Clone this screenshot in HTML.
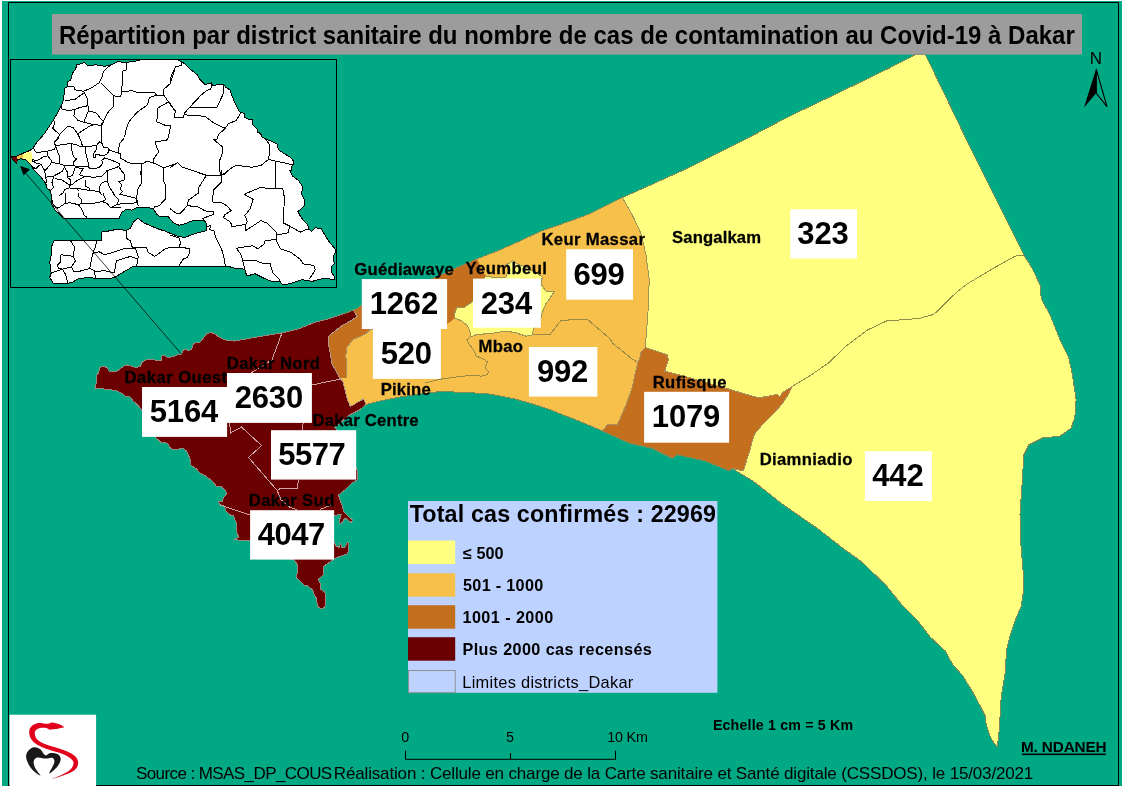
<!DOCTYPE html>
<html lang="fr"><head><meta charset="utf-8"><title>Répartition Covid-19 Dakar</title>
<style>
html,body{margin:0;padding:0;background:#fff;}
body{width:1123px;height:794px;overflow:hidden;}
svg{display:block;font-family:"Liberation Sans",sans-serif;}
</style></head><body>
<svg width="1123" height="794" viewBox="0 0 1123 794">
<rect x="0" y="0" width="1123" height="794" fill="#fff"/>
<rect x="2" y="1" width="1120" height="785" fill="#00A884"/>
<rect x="8.5" y="2.5" width="1110" height="783" fill="none" stroke="#000" stroke-width="1"/>
<g shape-rendering="crispEdges">
<rect x="80" y="50" width="1010" height="710" fill="#FFFF80"/>
<polygon points="622.3,180.0 622.3,197.5 632.3,214.9 641.0,233.6 646.0,254.8 649.2,279.7 648.5,304.7 646.7,329.6 645.2,347.5 641.0,352.4 639.8,358.6 637.9,362.3 634.8,374.8 632.3,387.3 626.1,404.8 617.4,424.7 607.4,424.7 602.4,431.0 600.0,480.0 320.0,480.0 320.0,180.0" fill="#F7C04B"/>
<polygon points="353.0,295.0 353.0,309.3 357.1,316.4 352.4,319.9 341.2,326.2 328.7,336.1 329.0,347.3 330.6,354.8 331.8,363.6 336.8,372.3 339.9,378.5 346.8,377.9 346.8,367.3 345.8,356.1 346.8,347.3 352.4,339.9 364.9,334.3 369.8,329.9 447.1,324.7 454.3,318.1 455.0,312.5 457.5,306.9 463.1,308.1 471.2,302.5 473.0,301.0 485.7,276.0 477.4,259.3 478.0,250.0" fill="#C46F1E"/>
<polygon points="645.2,347.5 667.3,354.9 668.5,359.9 664.8,371.1 679.7,374.9 729.6,389.3 749.5,395.3 759.5,397.8 777.3,394.3 779.8,396.8 782.3,392.7 791.0,387.2 792.3,386.4 787.3,396.2 782.3,403.6 774.8,412.4 762.3,424.8 754.9,433.6 752.4,441.0 749.3,452.3 743.3,470.9 732.1,468.4 729.0,480.0 600.0,480.0 602.4,431.0 607.4,424.7 617.4,424.7 626.1,404.8 632.3,387.3 634.8,374.8 637.9,362.3 639.8,358.6 641.0,352.4" fill="#C46F1E"/>
<polygon points="353.0,295.0 353.0,309.3 357.1,316.4 352.4,319.9 341.2,326.2 328.7,336.1 329.0,347.3 330.6,354.8 331.8,363.6 336.8,372.3 339.9,378.5 343.0,381.6 344.9,389.0 347.5,400.0 350.5,406.5 363.6,398.7 365.5,403.5 366.0,406.0 372.0,420.0 372.0,630.0 80.0,630.0 80.0,295.0" fill="#6B0000"/>
<polygon points="455.0,312.5 457.5,306.9 463.1,308.1 471.2,302.5 473.0,301.0 485.7,276.0 493.0,277.5 505.6,277.8 507.0,274.0 508.8,270.0 506.0,264.5 509.9,263.2 512.4,260.3 515.5,262.8 519.9,265.0 528.0,268.0 538.4,274.2 542.6,277.4 541.2,280.0 541.6,285.0 544.0,288.5 546.0,291.0 554.7,291.0 549.7,298.6 546.0,303.6 542.2,312.3 540.0,322.0 533.5,328.7 532.3,334.9 526.0,336.2 514.8,332.4 504.8,331.2 489.9,333.7 477.4,334.3 470.5,336.8 469.9,330.5 466.8,324.9 461.2,320.6 454.3,318.1" fill="#FFFF80"/>
<path d="M70 40H1100V770H70Z M95.0 388.6 L96.8 379.8 L96.2 376.7 L98.7 372.4 L100.0 367.4 L103.7 366.1 L107.4 368.0 L109.3 371.7 L116.2 371.7 L121.2 368.0 L124.9 365.5 L128.0 364.9 L134.9 367.4 L139.9 366.8 L142.3 361.8 L147.3 359.3 L153.6 359.3 L157.3 360.9 L161.1 360.5 L161.7 356.2 L164.2 355.3 L167.3 357.4 L173.5 356.8 L177.3 354.9 L181.6 354.3 L183.5 349.3 L186.0 349.3 L188.5 350.5 L191.6 349.3 L193.5 343.7 L196.0 342.4 L199.7 342.4 L202.8 338.7 L206.6 333.7 L210.9 332.5 L214.7 333.7 L219.6 337.5 L225.0 339.9 L234.6 341.1 L254.5 337.4 L282.0 332.9 L299.4 328.6 L314.4 322.4 L329.3 318.7 L344.3 313.7 L356.8 308.7 L362.3 304.8 L435.9 277.4 L454.6 268.6 L474.5 259.9 L499.5 250.0 L519.4 241.2 L540.0 231.5 L569.9 221.1 L589.9 213.7 L622.3 197.5 L640.0 189.7 L689.9 167.2 L739.7 142.3 L789.6 116.1 L839.5 92.3 L889.3 68.1 L914.9 54.8 L925.5 54.8 L928.0 60.0 L942.5 89.9 L967.7 142.3 L992.6 192.1 L1017.5 242.0 L1023.8 255.0 L1032.5 268.7 L1040.0 284.9 L1041.2 298.6 L1050.0 314.8 L1060.0 339.7 L1068.6 357.2 L1072.4 374.6 L1076.1 399.6 L1074.9 417.0 L1071.1 428.2 L1059.9 436.2 L1042.5 438.0 L1028.8 444.9 L1023.8 454.9 L1022.5 477.3 L1020.0 514.7 L1020.5 539.7 L1023.0 569.6 L1023.0 594.5 L1021.3 606.0 L1015.0 620.9 L1010.1 635.9 L1006.3 650.9 L1005.6 670.8 L1001.3 695.7 L1000.1 715.7 L998.8 735.6 L997.1 746.8 L991.4 739.4 L986.4 725.7 L985.1 715.7 L980.1 705.7 L972.7 692.0 L962.7 675.8 L952.7 664.6 L945.2 650.9 L930.3 637.1 L917.8 620.9 L902.8 606.0 L885.4 584.6 L860.5 560.9 L843.0 548.4 L816.9 528.0 L804.4 519.5 L779.5 502.0 L754.5 482.1 L732.1 468.4 L729.6 470.9 L704.7 460.9 L677.2 454.7 L672.3 458.4 L652.3 448.4 L629.9 443.4 L602.4 431.0 L580.0 421.5 L549.3 409.5 L530.0 403.2 L514.8 399.0 L489.9 394.1 L465.0 392.3 L440.0 391.6 L429.7 392.8 L400.0 397.0 L380.0 401.0 L366.0 404.5 L359.5 410.0 L349.5 415.0 L334.6 427.5 L345.0 440.0 L357.3 470.5 L357.3 479.9 L352.3 483.0 L344.9 489.9 L338.6 494.9 L339.9 499.9 L342.4 506.1 L343.6 511.7 L348.6 516.7 L352.3 519.8 L351.7 522.9 L344.9 517.9 L342.4 522.3 L339.9 523.5 L339.3 521.0 L341.1 514.8 L337.4 514.8 L333.5 516.1 L331.0 528.0 L333.5 539.9 L336.0 546.1 L339.7 547.4 L340.3 542.4 L341.6 547.4 L344.7 548.0 L347.2 542.4 L349.0 542.4 L347.8 553.6 L334.1 558.6 L332.1 560.3 L323.8 566.3 L323.1 575.0 L318.1 579.5 L320.0 582.9 L320.8 589.4 L323.8 591.3 L325.7 594.3 L325.7 600.3 L324.9 607.1 L321.9 609.0 L319.3 607.5 L317.0 605.6 L317.0 603.3 L316.6 598.4 L314.0 594.3 L312.5 589.7 L306.4 585.2 L304.2 585.2 L299.6 580.3 L296.2 577.7 L296.0 575.4 L297.7 573.1 L297.7 565.6 L294.7 560.3 L270.0 550.0 L249.8 540.9 L233.6 539.7 L238.6 537.2 L236.8 532.2 L236.0 522.3 L233.5 516.0 L229.8 514.8 L226.0 511.0 L224.2 506.0 L219.8 504.8 L218.6 501.7 L222.3 501.1 L223.6 497.9 L226.7 493.6 L224.8 489.8 L221.1 486.7 L216.1 486.1 L212.3 481.1 L204.9 475.5 L200.5 473.6 L196.1 468.6 L191.1 465.5 L189.9 458.7 L186.8 451.2 L182.4 448.1 L174.9 449.9 L170.6 448.7 L167.5 443.1 L161.2 442.5 L155.6 437.5 L141.7 409.8 L137.4 404.8 L133.0 401.0 L129.9 396.7 L124.9 396.0 L122.4 393.6 L116.2 390.4 L109.9 389.8 L101.2 388.6Z" fill="#00A884" fill-rule="evenodd"/>
</g>
<g fill="none" stroke-width="1" shape-rendering="crispEdges">
<polyline points="344.3,313.7 356.8,308.7 362.3,304.8 435.9,277.4 454.6,268.6 474.5,259.9 499.5,250.0 519.4,241.2 540.0,231.5 569.9,221.1 589.9,213.7 622.3,197.5 640.0,189.7 689.9,167.2 739.7,142.3 789.6,116.1 839.5,92.3 889.3,68.1 914.9,54.8 925.5,54.8 928.0,60.0 942.5,89.9 967.7,142.3 992.6,192.1 1017.5,242.0 1023.8,255.0 1032.5,268.7 1040.0,284.9 1041.2,298.6 1050.0,314.8 1060.0,339.7 1068.6,357.2 1072.4,374.6 1076.1,399.6 1074.9,417.0 1071.1,428.2 1059.9,436.2 1042.5,438.0 1028.8,444.9 1023.8,454.9 1022.5,477.3 1020.0,514.7 1020.5,539.7 1023.0,569.6 1023.0,594.5 1021.3,606.0 1015.0,620.9 1010.1,635.9 1006.3,650.9 1005.6,670.8 1001.3,695.7 1000.1,715.7 998.8,735.6 997.1,746.8 991.4,739.4 986.4,725.7 985.1,715.7 980.1,705.7 972.7,692.0 962.7,675.8 952.7,664.6 945.2,650.9 930.3,637.1 917.8,620.9 902.8,606.0 885.4,584.6 860.5,560.9 843.0,548.4 816.9,528.0 804.4,519.5 779.5,502.0 754.5,482.1 732.1,468.4 729.6,470.9 704.7,460.9 677.2,454.7 672.3,458.4 652.3,448.4 629.9,443.4 602.4,431.0 580.0,421.5 549.3,409.5 530.0,403.2 514.8,399.0 489.9,394.1 465.0,392.3 440.0,391.6 429.7,392.8 400.0,397.0 380.0,401.0 366.0,404.5 359.5,410.0" stroke="#7d8a5a"/>
<polyline points="359.5,410.0 349.5,415.0 334.6,427.5 345.0,440.0 357.3,470.5 357.3,479.9 352.3,483.0 344.9,489.9 338.6,494.9 339.9,499.9 342.4,506.1 343.6,511.7 348.6,516.7 352.3,519.8 351.7,522.9 344.9,517.9 342.4,522.3 339.9,523.5 339.3,521.0 341.1,514.8 337.4,514.8 333.5,516.1 331.0,528.0 333.5,539.9 336.0,546.1 339.7,547.4 340.3,542.4 341.6,547.4 344.7,548.0 347.2,542.4 349.0,542.4 347.8,553.6 334.1,558.6 332.1,560.3 323.8,566.3 323.1,575.0 318.1,579.5 320.0,582.9 320.8,589.4 323.8,591.3 325.7,594.3 325.7,600.3 324.9,607.1 321.9,609.0 319.3,607.5 317.0,605.6 317.0,603.3 316.6,598.4 314.0,594.3 312.5,589.7 306.4,585.2 304.2,585.2 299.6,580.3 296.2,577.7 296.0,575.4 297.7,573.1 297.7,565.6 294.7,560.3 270.0,550.0 249.8,540.9 233.6,539.7 238.6,537.2 236.8,532.2 236.0,522.3 233.5,516.0 229.8,514.8 226.0,511.0 224.2,506.0 219.8,504.8 218.6,501.7 222.3,501.1 223.6,497.9 226.7,493.6 224.8,489.8 221.1,486.7 216.1,486.1 212.3,481.1 204.9,475.5 200.5,473.6 196.1,468.6 191.1,465.5 189.9,458.7 186.8,451.2 182.4,448.1 174.9,449.9 170.6,448.7 167.5,443.1 161.2,442.5 155.6,437.5 141.7,409.8 137.4,404.8 133.0,401.0 129.9,396.7 124.9,396.0 122.4,393.6 116.2,390.4 109.9,389.8 101.2,388.6 95.0,388.6 96.8,379.8 96.2,376.7 98.7,372.4 100.0,367.4 103.7,366.1 107.4,368.0 109.3,371.7 116.2,371.7 121.2,368.0 124.9,365.5 128.0,364.9 134.9,367.4 139.9,366.8 142.3,361.8 147.3,359.3 153.6,359.3 157.3,360.9 161.1,360.5 161.7,356.2 164.2,355.3 167.3,357.4 173.5,356.8 177.3,354.9 181.6,354.3 183.5,349.3 186.0,349.3 188.5,350.5 191.6,349.3 193.5,343.7 196.0,342.4 199.7,342.4 202.8,338.7 206.6,333.7 210.9,332.5 214.7,333.7 219.6,337.5 225.0,339.9 234.6,341.1 254.5,337.4 282.0,332.9 299.4,328.6 314.4,322.4 329.3,318.7 344.3,313.7" stroke="#9a8880"/>
<polyline points="622.3,197.5 632.3,214.9 641.0,233.6 646.0,254.8 649.2,279.7 648.5,304.7 646.7,329.6 645.2,347.5" stroke="#9c9458"/>
<polyline points="1023.8,255.0 1015.0,256.2 992.6,268.7 967.7,283.6 956.4,292.4 934.0,314.3 919.0,318.5 886.6,321.0 867.9,329.8 844.3,347.5 829.3,362.4 809.4,376.1 792.3,386.4" stroke="#8e8e4a"/>
<polyline points="532.3,334.9 549.7,334.9 560.9,320.6 577.5,319.3 587.4,319.3 601.1,331.2 609.9,338.6 612.4,343.0 622.3,351.1 632.3,359.2 637.9,362.3" stroke="#9a8848"/>
<polyline points="470.5,336.8 466.8,339.9 468.7,343.6 473.7,349.9 476.2,356.1 482.4,358.6 487.4,361.7 484.9,368.0 488.6,371.7 487.4,374.8 481.1,376.1 471.2,375.4 458.7,376.7 440.9,379.1 425.0,383.0" stroke="#9a8848"/>
<polyline points="282.0,332.9 272.0,359.8 252.0,372.3 230.8,385.0" stroke="#c8a4a4"/>
<polyline points="229.8,423.4 230.4,433.1 241.5,427.0 261.6,445.6 248.5,457.4 277.2,490.5 280.9,499.8 290.0,507.3 297.2,509.7" stroke="#c8a4a4"/>
<polyline points="310.0,385.4 339.9,379.1" stroke="#c8a4a4"/>
<polyline points="303.1,423.4 302.2,430.0" stroke="#c8a4a4"/>
<polyline points="298.4,479.8 297.2,488.8 280.9,488.0 277.2,490.5" stroke="#c8a4a4"/>
<polyline points="219.8,504.8 249.7,514.8" stroke="#c8a4a4"/>
<polyline points="319.6,509.7 332.1,504.7" stroke="#c8a4a4"/>
<polygon points="455.0,312.5 457.5,306.9 463.1,308.1 471.2,302.5 473.0,301.0 485.7,276.0 493.0,277.5 505.6,277.8 507.0,274.0 508.8,270.0 506.0,264.5 509.9,263.2 512.4,260.3 515.5,262.8 519.9,265.0 528.0,268.0 538.4,274.2 542.6,277.4 541.2,280.0 541.6,285.0 544.0,288.5 546.0,291.0 554.7,291.0 549.7,298.6 546.0,303.6 542.2,312.3 540.0,322.0 533.5,328.7 532.3,334.9 526.0,336.2 514.8,332.4 504.8,331.2 489.9,333.7 477.4,334.3 470.5,336.8 469.9,330.5 466.8,324.9 461.2,320.6 454.3,318.1" stroke="#9c9458"/>
<polyline points="353.0,309.3 357.1,316.4 352.4,319.9 341.2,326.2 328.7,336.1 329.0,347.3 330.6,354.8 331.8,363.6 336.8,372.3 339.9,378.5 343.0,381.6 344.9,389.0 347.5,400.0 350.5,406.5 363.6,398.7 365.5,403.5 366.0,406.0" stroke="#b09888"/>
<polyline points="346.8,377.9 346.8,367.3 345.8,356.1 346.8,347.3 352.4,339.9 364.9,334.3 369.8,329.9 447.1,324.7" stroke="#a89060"/>
<polyline points="645.2,347.5 667.3,354.9 668.5,359.9 664.8,371.1 679.7,374.9 729.6,389.3 749.5,395.3 759.5,397.8 777.3,394.3 779.8,396.8 782.3,392.7 791.0,387.2 792.3,386.4 787.3,396.2 782.3,403.6 774.8,412.4 762.3,424.8 754.9,433.6 752.4,441.0 749.3,452.3 743.3,470.9 732.1,468.4" stroke="#a89060"/>
<polyline points="645.2,347.5 641.0,352.4 639.8,358.6 637.9,362.3 634.8,374.8 632.3,387.3 626.1,404.8 617.4,424.7 607.4,424.7 602.4,431.0" stroke="#a89060"/>
</g>
<g id="inset">
<rect x="10.5" y="59.5" width="326" height="228" fill="none" stroke="#000" stroke-width="1"/>
<polygon points="11.3,157.0 16.3,156.2 22.6,153.3 28.9,150.8 30.2,150.4 33.3,147.8 35.3,144.3 44.4,133.7 53.4,120.1 61.0,106.5 63.3,100.4 64.8,88.3 67.1,86.8 67.8,81.5 70.8,80.0 72.4,73.2 75.4,69.4 76.9,64.8 84.5,62.6 87.5,65.6 95.8,64.8 104.9,66.4 111.0,64.8 117.8,61.8 126.1,62.3 133.0,61.5 140.0,60.2 170.0,60.0 178.5,60.2 182.9,62.6 185.1,64.1 191.2,70.1 197.2,74.7 200.3,80.0 204.8,84.5 211.6,83.0 212.4,86.0 218.4,84.5 223.7,84.5 226.0,87.5 229.8,89.8 232.1,95.9 235.1,103.4 237.4,108.0 239.6,111.8 244.2,113.3 244.2,117.1 248.7,119.3 252.5,119.3 252.5,124.6 257.0,129.2 257.8,132.2 260.8,133.7 261.6,136.7 266.1,139.0 272.9,142.0 277.5,144.3 278.2,149.6 285.0,154.2 290.3,157.2 293.4,161.0 294.1,164.0 291.9,166.3 291.9,170.0 289.6,170.0 292.6,176.0 298.7,180.6 302.5,186.7 301.7,194.2 304.7,200.3 304.0,206.3 297.9,211.6 301.7,218.4 307.8,224.5 308.5,229.0 311.5,231.3 315.3,227.5 321.4,229.0 325.9,236.6 329.7,242.7 335.0,248.7 335.8,251.7 333.5,256.3 334.2,263.9 331.2,266.9 332.0,272.9 335.0,277.5 334.2,279.7 324.4,278.2 312.3,281.3 301.7,279.7 292.6,282.8 283.5,285.0 279.0,281.3 271.4,281.3 263.9,278.2 254.8,273.7 247.2,276.0 245.7,272.9 244.9,269.2 235.1,268.4 227.5,266.1 224.5,266.1 170.0,266.1 138.2,266.1 132.2,266.9 124.6,271.4 117.0,276.0 109.5,279.0 95.8,278.2 86.7,277.5 77.7,279.0 71.6,282.8 67.1,283.2 53.4,283.5 49.7,277.5 51.2,272.9 49.7,262.3 51.2,254.8 51.9,245.7 54.2,240.4 101.1,240.4 101.9,232.1 111.0,230.6 117.8,229.0 126.1,230.6 130.6,228.3 133.7,221.5 138.2,218.4 144.3,223.0 156.4,228.3 165.5,231.3 173.0,234.5 179.1,236.6 185.1,237.4 192.7,234.3 200.3,232.1 206.3,230.6 207.1,226.8 205.6,221.5 200.3,220.0 192.7,220.7 185.1,223.7 179.1,225.3 173.0,222.5 168.5,216.9 159.4,216.2 156.4,213.9 153.3,208.6 144.3,207.1 136.7,207.8 132.2,210.1 126.1,209.4 121.6,212.4 119.3,218.1 63.3,218.1 59.5,213.9 55.5,210.5 53.8,208.0 52.0,204.8 51.6,200.3 51.2,195.0 50.3,190.5 46.7,187.9 45.8,183.4 43.1,179.9 39.6,175.4 35.1,171.4 31.6,166.5 30.8,164.5 25.8,159.5 21.4,158.6 17.6,158.9 16.3,163.3 13.2,160.1" fill="#fff" shape-rendering="crispEdges"/>
<polyline points="178.5,60.2 182.9,62.6 185.1,64.1 191.2,70.1 197.2,74.7 200.3,80.0 204.8,84.5 211.6,83.0 212.4,86.0 218.4,84.5 223.7,84.5 226.0,87.5 229.8,89.8 232.1,95.9 235.1,103.4 237.4,108.0 239.6,111.8 244.2,113.3 244.2,117.1 248.7,119.3 252.5,119.3 252.5,124.6 257.0,129.2 257.8,132.2 260.8,133.7 261.6,136.7 266.1,139.0 272.9,142.0 277.5,144.3 278.2,149.6 285.0,154.2 290.3,157.2 293.4,161.0 294.1,164.0 291.9,166.3 291.9,170.0 289.6,170.0 292.6,176.0 298.7,180.6 302.5,186.7 301.7,194.2 304.7,200.3 304.0,206.3 297.9,211.6 301.7,218.4 307.8,224.5 308.5,229.0 311.5,231.3 315.3,227.5 321.4,229.0 325.9,236.6 329.7,242.7 335.0,248.7 335.8,251.7 333.5,256.3 334.2,263.9 331.2,266.9 332.0,272.9 335.0,277.5 334.2,279.7 324.4,278.2 312.3,281.3 301.7,279.7 292.6,282.8 283.5,285.0 279.0,281.3 271.4,281.3 263.9,278.2 254.8,273.7 247.2,276.0 245.7,272.9 244.9,269.2 235.1,268.4 227.5,266.1 224.5,266.1 170.0,266.1 138.2,266.1 132.2,266.9 124.6,271.4 117.0,276.0 109.5,279.0 95.8,278.2 86.7,277.5 77.7,279.0 71.6,282.8 67.1,283.2 53.4,283.5 49.7,277.5 51.2,272.9 49.7,262.3 51.2,254.8 51.9,245.7 54.2,240.4 101.1,240.4 101.9,232.1 111.0,230.6 117.8,229.0 126.1,230.6 130.6,228.3 133.7,221.5 138.2,218.4 144.3,223.0 156.4,228.3 165.5,231.3 173.0,234.5 179.1,236.6 185.1,237.4 192.7,234.3 200.3,232.1 206.3,230.6 207.1,226.8 205.6,221.5 200.3,220.0 192.7,220.7 185.1,223.7 179.1,225.3 173.0,222.5 168.5,216.9 159.4,216.2 156.4,213.9 153.3,208.6 144.3,207.1 136.7,207.8 132.2,210.1 126.1,209.4 121.6,212.4 119.3,218.1 63.3,218.1 59.5,213.9 55.5,210.5 53.8,208.0 52.0,204.8 51.6,200.3 51.2,195.0 50.3,190.5 46.7,187.9 45.8,183.4 43.1,179.9 39.6,175.4 35.1,171.4 31.6,166.5 30.8,164.5 25.8,159.5 21.4,158.6 17.6,158.9 16.3,163.3 13.2,160.1 11.3,157.0 16.3,156.2 22.6,153.3 28.9,150.8 30.2,150.4 33.3,147.8 35.3,144.3 44.4,133.7 53.4,120.1 61.0,106.5 63.3,100.4 64.8,88.3 67.1,86.8 67.8,81.5 70.8,80.0 72.4,73.2 75.4,69.4 76.9,64.8 84.5,62.6 87.5,65.6 95.8,64.8 104.9,66.4 111.0,64.8 117.8,61.8 126.1,62.3 133.0,61.5 140.0,60.2" fill="none" stroke="#000" stroke-width="1" stroke-linejoin="round" shape-rendering="crispEdges"/>
<g fill="none" stroke="#000" stroke-width="1" stroke-linejoin="round" shape-rendering="crispEdges">
<polyline points="67.8,86.8 73.9,86.0 74.6,89.8 83.7,91.3 92.0,87.5 98.9,83.0 101.9,77.7 103.4,71.7 107.2,67.9 111.0,64.8"/>
<polyline points="64.8,100.4 74.6,99.7 80.7,95.1 84.5,92.8 83.7,91.3"/>
<polyline points="84.5,92.8 87.5,98.9 88.0,105.7 80.7,107.2 74.6,109.5 70.1,110.3 62.5,109.8 61.0,107.2"/>
<polyline points="88.0,105.7 88.0,111.0 95.8,112.5 101.9,120.1 103.4,121.6 107.9,112.5 113.2,106.5 113.7,95.9 111.0,92.8 101.1,83.0"/>
<polyline points="113.7,95.9 120.8,96.6 121.6,92.1 126.1,91.3 132.2,90.6 136.7,92.1 154.9,92.8 156.4,95.1 163.9,95.1 163.2,89.8 170.0,83.8 173.0,74.7 175.0,68.6"/>
<polyline points="121.6,92.1 123.1,70.1 126.1,70.1 126.1,61.8"/>
<polyline points="163.9,95.1 168.5,101.9 157.9,108.0 157.1,118.6 156.4,121.6 165.5,125.4 170.8,125.4 167.7,139.8 154.9,142.0 158.6,151.9 153.3,159.5 154.1,163.2 163.9,167.8 175.0,164.0"/>
<polyline points="168.5,101.9 175.0,111.0"/>
<polyline points="156.4,95.1 149.6,97.4 147.3,105.0 136.7,112.5 129.1,121.6 126.1,129.2 124.6,136.7"/>
<polyline points="74.6,109.5 73.9,115.6 77.7,120.1 83.7,122.4 88.3,111.0"/>
<polyline points="83.7,122.4 94.3,124.6 101.9,125.4 103.4,121.6"/>
<polyline points="53.4,120.1 55.0,122.4 52.7,128.4 59.5,134.5 67.8,126.1 73.1,127.7 77.7,133.7"/>
<polyline points="77.7,133.7 89.8,126.1 94.3,124.6"/>
<polyline points="130.6,163.2 142.0,164.0 147.3,161.0 154.1,163.2"/>
<polyline points="142.0,164.0 140.5,175.2"/>
<polyline points="163.9,167.8 163.9,175.2"/>
<polyline points="179.1,60.3 182.1,62.6 181.4,65.6 176.1,66.4 172.3,73.2 170.0,80.7"/>
<polyline points="170.0,103.4 175.3,111.0 174.5,117.8 183.6,117.1 184.4,113.3 189.7,107.2 200.3,95.9 206.3,90.6 210.9,89.1 211.6,83.8"/>
<polyline points="189.7,107.2 216.9,107.2 223.0,94.4 223.7,84.5"/>
<polyline points="184.4,114.8 204.8,116.3 213.9,123.1 225.3,128.4 228.3,123.9 236.6,120.1 240.4,113.3"/>
<polyline points="225.3,128.4 218.4,134.5 216.9,139.0 213.9,139.8 223.0,147.3 222.2,153.4 220.0,159.5 219.2,168.5 220.7,175.2"/>
<polyline points="265.4,139.0 269.2,144.3 269.9,151.9 268.4,159.5 260.8,165.5 251.7,167.3 236.6,165.2 230.6,168.5 223.0,175.2"/>
<polyline points="268.4,159.5 275.2,161.0 292.6,164.7"/>
<polyline points="275.2,161.0 275.2,175.2"/>
<polyline points="170.0,167.8 177.6,162.5 182.1,167.0 195.7,171.6 203.3,174.6"/>
<polyline points="191.2,170.0 206.3,175.3 221.5,175.3 229.0,170.0"/>
<polyline points="221.5,170.0 221.5,175.3 221.5,182.1 213.9,189.7 212.4,198.8 213.1,202.5 221.5,202.5 227.5,206.3 231.3,210.9 224.5,214.7 223.7,217.7 230.6,222.2 232.1,226.8 239.6,225.3 245.7,224.5 247.2,221.5 244.9,215.4 250.2,208.6 253.3,199.5 244.2,194.2 259.3,187.9 276.0,188.2 282.8,188.5 284.3,197.2 283.5,223.0 289.6,226.0 300.2,232.1 307.8,229.0"/>
<polyline points="275.2,170.0 276.0,188.2"/>
<polyline points="206.3,175.3 198.0,188.9 198.8,192.7 188.2,200.3 187.4,205.6 198.8,207.1 204.8,210.9 213.1,211.6 213.1,214.7 202.5,218.4 205.6,221.5"/>
<polyline points="170.0,208.6 176.1,213.1 180.6,213.1 187.4,205.6"/>
<polyline points="245.7,224.5 245.7,230.6 260.8,220.7 266.9,223.0 276.0,232.1 276.7,235.1 288.1,232.8 289.6,226.0"/>
<polyline points="276.7,235.1 276.0,239.6 265.4,240.4 263.9,244.2 257.8,248.7 252.5,245.7 238.1,248.0 236.6,248.7 241.1,254.8 242.7,260.8 244.9,269.2"/>
<polyline points="276.0,239.6 280.5,248.7 291.1,252.5 300.2,259.3 303.2,263.9 313.8,265.4 315.3,269.9 309.3,279.0"/>
<polyline points="242.7,260.8 248.7,260.1 256.3,260.8 263.9,263.9 269.9,263.1 272.9,272.9 279.0,279.0 280.5,282.0"/>
<polyline points="207.1,226.8 210.9,225.3 209.4,229.8 213.9,230.6 215.4,236.6 221.5,248.7 223.7,256.3 225.3,266.1"/>
<polyline points="170.0,248.0 180.6,247.2 189.7,248.7 189.7,252.5 187.4,257.8 183.6,258.6 179.1,265.4"/>
<polyline points="170.0,235.1 179.1,238.1 180.6,242.7 179.1,247.2"/>
<polyline points="136.7,198.0 138.2,206.3"/>
<polyline points="141.2,170.0 141.2,183.6 137.5,189.7 136.7,198.0"/>
<polyline points="163.9,170.0 163.2,180.6 165.5,185.1 165.5,198.8 159.4,205.6 154.1,207.1"/>
<polyline points="70.8,241.1 74.6,247.2 73.1,256.3 75.4,260.8 71.6,266.9 73.9,271.4 79.2,271.4 89.8,268.4 92.8,253.3 95.8,245.7 96.6,241.1"/>
<polyline points="61.0,254.8 73.1,256.3"/>
<polyline points="61.0,254.8 60.3,262.3 57.2,265.4 58.7,268.4 62.5,269.2 71.6,266.9"/>
<polyline points="51.2,272.9 62.5,269.2 65.6,274.5 67.8,282.8"/>
<polyline points="92.8,253.3 98.9,251.7 104.9,254.8 117.0,251.0 126.1,248.0 135.2,248.0 146.5,247.2 148.1,252.5 154.9,256.3 165.5,248.7 171.5,247.2 175.0,248.0"/>
<polyline points="126.1,230.6 126.1,238.1 130.6,241.1 132.2,247.2 135.2,248.0 138.2,256.3 136.7,266.1"/>
<polyline points="89.8,268.4 95.8,271.4 104.9,270.7 114.0,272.9 115.5,266.9 116.3,260.8 126.1,257.8 130.6,256.3 138.2,259.3"/>
<polyline points="94.3,271.4 95.8,278.2"/>
<polyline points="33.3,147.8 35.1,151.4 37.8,152.7 41.4,151.8 47.1,151.4 54.7,149.1 55.6,146.0 54.3,142.5 59.2,138.0"/>
<polyline points="55.6,146.0 63.6,144.2 71.6,143.8 77.9,145.1 80.5,146.9 85.9,146.5 96.6,145.6 98.3,142.0 101.9,143.3 101.5,138.0"/>
<polyline points="79.6,138.0 81.4,141.6 82.3,145.6"/>
<polyline points="101.9,143.3 103.7,147.8 108.1,147.8 109.9,150.5 117.9,152.7 120.6,154.0 120.6,158.0 128.0,162.5"/>
<polyline points="124.2,138.0 119.7,143.3 117.9,152.7"/>
<polyline points="55.6,146.0 57.4,151.4 59.2,155.8 59.6,163.8 63.6,165.2 73.4,165.2 76.1,166.5 88.6,166.9 89.4,168.3 93.9,168.7 99.2,167.4 102.4,163.8 101.9,160.3 104.6,158.0 109.9,159.4 119.7,163.8"/>
<polyline points="71.6,143.8 71.6,149.6 73.4,156.7 76.5,158.9 73.9,161.6 73.4,165.2"/>
<polyline points="85.9,146.5 85.9,154.0 88.6,163.8 89.0,166.9"/>
<polyline points="96.6,145.6 96.6,149.6 93.0,154.0 93.9,157.6 95.7,158.0 95.7,154.9 99.2,154.9 101.9,155.8 106.4,154.5 109.0,151.4 108.1,147.8"/>
<polyline points="47.1,151.4 47.6,155.8 51.2,160.3 51.6,162.5 59.2,163.8"/>
<polyline points="32.0,159.8 37.8,160.3 43.1,157.1 47.6,155.8"/>
<polyline points="32.0,160.7 36.0,162.9 39.6,163.8 41.4,164.7 43.6,169.2 45.8,170.1 49.4,165.6 51.6,162.5"/>
<polyline points="31.6,166.5 36.0,168.7 39.6,164.7"/>
<polyline points="43.6,169.2 45.4,173.6 45.4,177.2 53.8,176.3 54.7,175.4 61.8,171.8 64.5,167.4 63.6,165.2"/>
<polyline points="45.4,177.2 46.7,181.6 45.8,183.4"/>
<polyline points="53.8,176.3 52.0,182.5 53.4,187.9 50.3,190.5"/>
<polyline points="54.7,178.5 61.8,179.9 67.2,183.4 69.9,185.2 70.7,179.9 67.2,177.2 67.2,171.8 64.5,167.4"/>
<polyline points="67.2,177.2 72.5,175.4 75.2,167.4"/>
<polyline points="75.2,167.4 83.2,168.7 80.5,172.7 79.6,175.0 85.0,176.7 93.9,177.2 101.9,176.3 106.8,170.9 118.8,166.5 119.7,163.8"/>
<polyline points="69.9,185.2 72.5,184.3 77.9,179.9 85.0,176.7"/>
<polyline points="85.0,179.9 85.0,186.1 89.4,188.3 89.4,190.5 99.2,191.4 100.1,185.2 102.8,182.1 107.3,181.6 107.3,170.9"/>
<polyline points="69.9,188.8 76.1,188.3 85.0,189.6 89.4,190.5"/>
<polyline points="69.9,185.2 69.0,187.9 64.5,189.6 63.6,192.3 59.2,195.9"/>
<polyline points="77.0,188.8 79.6,191.4"/>
<polyline points="99.2,191.4 101.9,195.0"/>
<polyline points="107.3,181.6 109.9,187.9 113.5,193.2"/>
<polyline points="118.8,166.5 121.5,170.9 124.6,174.5 124.2,179.9 118.8,181.6 121.5,184.3 120.6,189.6 122.4,191.4 119.7,194.1 128.0,196.3"/>
<polyline points="51.4,193.8 52.0,199.8 52.6,203.4 55.6,207.0 57.9,208.2 65.1,203.4 65.7,195.0 65.5,192.6"/>
<polyline points="65.1,203.4 69.9,202.8 78.3,204.6 81.3,203.4 81.9,199.8 78.3,196.2 78.0,192.6"/>
<polyline points="78.3,204.6 81.9,209.4 84.3,215.3 87.2,217.7"/>
<polyline points="81.3,203.4 87.8,204.0 96.2,202.8 102.2,201.6 107.0,203.4 110.6,207.6 116.6,204.6 118.9,199.8 114.2,195.0 113.0,192.6"/>
<polyline points="102.2,201.6 105.8,199.8 103.4,195.0 102.8,192.6"/>
<polyline points="110.6,207.6 121.3,207.0"/>
<polyline points="116.6,204.6 123.7,203.4 130.9,204.0 136.9,202.2 136.3,195.0"/>
<polyline points="59.6,134.6 57.4,138.6 54.7,141.3 54.7,144.9 56.0,146.6"/>
<polyline points="77.4,133.3 79.6,137.7 81.4,142.2 82.5,146.5"/>
<polyline points="101.9,123.5 101.7,137.7 101.7,143.5 99.2,141.3 97.5,145.3"/>
<polyline points="120.0,157.6 127.1,162.2 131.6,163.4"/>
<polyline points="127.1,196.1 136.5,198.4"/>
</g>
<g shape-rendering="crispEdges">
<polygon points="11.3,157 16.3,156.2 17.6,158.9 16.3,163.3 13.2,160.1" fill="#6B0000"/>
<polygon points="16.3,156.2 22.6,153.3 23.5,158.8 21.4,158.6 17.6,158.9" fill="#F7C04B"/>
<polygon points="22.6,153.3 28.9,150.8 31.4,152.6 32.7,158.3 30.8,164.5 25.8,159.5 23.5,158.8" fill="#FFFF80"/>
<polyline points="11.3,157 16.3,156.4 22.6,153.5 28.9,151" fill="none" stroke="#000" stroke-width="1"/>
<polyline points="17.6,159.2 21.4,158.9 25.8,159.8 30.8,164.5" fill="none" stroke="#000" stroke-width="1"/>
</g>
<line x1="181.6" y1="354.3" x2="26" y2="173.5" stroke="#000" stroke-width="0.75"/>
<polygon points="20.1,166.1 29.9,169.3 23.6,175.6" fill="#000"/>
</g>
<rect x="52" y="14" width="1030" height="40.6" fill="#9C9C9C"/>
<text transform="translate(58.94,44.40) scale(1.0,1.045)" font-size="24" font-weight="bold" letter-spacing="0.002" fill="#000">Répartition par district sanitaire du nombre de cas de contamination au Covid-19 à Dakar</text>
<polygon points="1096.3,68.3 1084,107.5 1096.3,93" fill="#000"/>
<polygon points="1096.3,69.5 1107,106.6 1096.3,93.3" fill="none" stroke="#000" stroke-width="1.1" stroke-linejoin="miter"/>
<text x="1089.64" y="63.90" font-size="17" letter-spacing="0.000" fill="#000">N</text>
<rect x="361.8" y="279.1" width="85.3" height="49.9" fill="#fff"/>
<rect x="473.0" y="278.6" width="67.9" height="49.1" fill="#fff"/>
<rect x="372.9" y="328.9" width="68.0" height="50.0" fill="#fff"/>
<rect x="528.9" y="347.0" width="68.4" height="49.6" fill="#fff"/>
<rect x="566.2" y="249.3" width="66.8" height="50.4" fill="#fff"/>
<rect x="790.2" y="209.2" width="66.7" height="49.3" fill="#fff"/>
<rect x="644.1" y="391.8" width="85.0" height="50.9" fill="#fff"/>
<rect x="864.9" y="451.2" width="67.1" height="49.8" fill="#fff"/>
<rect x="142.0" y="387.0" width="85.1" height="49.9" fill="#fff"/>
<rect x="227.0" y="373.0" width="84.9" height="49.9" fill="#fff"/>
<rect x="271.0" y="430.2" width="85.2" height="49.4" fill="#fff"/>
<rect x="250.1" y="510.2" width="84.0" height="49.4" fill="#fff"/>
<text transform="translate(369.69,314.30) scale(1,1.03)" font-size="31" font-weight="bold" letter-spacing="-0.15">1262</text>
<text transform="translate(480.74,313.80) scale(1,1.03)" font-size="31" font-weight="bold" letter-spacing="-0.15">234</text>
<text transform="translate(380.69,364.10) scale(1,1.03)" font-size="31" font-weight="bold" letter-spacing="-0.15">520</text>
<text transform="translate(536.89,382.20) scale(1,1.03)" font-size="31" font-weight="bold" letter-spacing="-0.15">992</text>
<text transform="translate(573.39,284.50) scale(1,1.03)" font-size="31" font-weight="bold" letter-spacing="-0.15">699</text>
<text transform="translate(797.34,244.40) scale(1,1.03)" font-size="31" font-weight="bold" letter-spacing="-0.15">323</text>
<text transform="translate(651.84,427.00) scale(1,1.03)" font-size="31" font-weight="bold" letter-spacing="-0.15">1079</text>
<text transform="translate(872.24,486.40) scale(1,1.03)" font-size="31" font-weight="bold" letter-spacing="-0.15">442</text>
<text transform="translate(149.79,422.20) scale(1,1.03)" font-size="31" font-weight="bold" letter-spacing="-0.15">5164</text>
<text transform="translate(234.69,408.20) scale(1,1.03)" font-size="31" font-weight="bold" letter-spacing="-0.15">2630</text>
<text transform="translate(278.37,465.40) scale(1,1.03)" font-size="31" font-weight="bold" letter-spacing="-0.5">5577</text>
<text transform="translate(257.87,545.40) scale(1,1.03)" font-size="31" font-weight="bold" letter-spacing="-0.5">4047</text>
<text transform="translate(354.23,275.40) scale(1.05,1.0)" font-size="15.9" font-weight="bold" letter-spacing="0.237" fill="#000" stroke="#000" stroke-width="0.25">Guédiawaye</text>
<text transform="translate(465.47,274.10) scale(1.05,1.0)" font-size="15.9" font-weight="bold" letter-spacing="0.368" fill="#000" stroke="#000" stroke-width="0.25">Yeumbeul</text>
<text transform="translate(478.61,351.70) scale(1.05,1.0)" font-size="15.9" font-weight="bold" letter-spacing="0.247" fill="#000" stroke="#000" stroke-width="0.25">Mbao</text>
<text transform="translate(380.71,395.10) scale(1.05,1.0)" font-size="15.9" font-weight="bold" letter-spacing="0.153" fill="#000" stroke="#000" stroke-width="0.25">Pikine</text>
<text transform="translate(541.41,244.80) scale(1.05,1.0)" font-size="15.9" font-weight="bold" letter-spacing="0.313" fill="#000" stroke="#000" stroke-width="0.25">Keur Massar</text>
<text transform="translate(672.10,242.80) scale(1.05,1.0)" font-size="15.9" font-weight="bold" letter-spacing="0.100" fill="#000" stroke="#000" stroke-width="0.25">Sangalkam</text>
<text transform="translate(652.71,388.30) scale(1.05,1.0)" font-size="15.9" font-weight="bold" letter-spacing="0.326" fill="#000" stroke="#000" stroke-width="0.25">Rufisque</text>
<text transform="translate(759.71,465.10) scale(1.05,1.0)" font-size="15.9" font-weight="bold" letter-spacing="0.293" fill="#000" stroke="#000" stroke-width="0.25">Diamniadio</text>
<text transform="translate(124.51,382.80) scale(1.05,1.0)" font-size="15.9" font-weight="bold" letter-spacing="0.411" fill="#000" stroke="#000" stroke-width="0.25">Dakar Ouest</text>
<text transform="translate(226.81,368.50) scale(1.05,1.0)" font-size="15.9" font-weight="bold" letter-spacing="0.337" fill="#000" stroke="#000" stroke-width="0.25">Dakar Nord</text>
<text transform="translate(312.41,426.10) scale(1.05,1.0)" font-size="15.9" font-weight="bold" letter-spacing="0.203" fill="#000" stroke="#000" stroke-width="0.25">Dakar Centre</text>
<text transform="translate(248.71,506.00) scale(1.05,1.0)" font-size="15.9" font-weight="bold" letter-spacing="0.371" fill="#000" stroke="#000" stroke-width="0.25">Dakar Sud</text>
<rect x="408" y="501" width="309.4" height="191.8" fill="#BED2FF"/>
<text x="409.67" y="522.00" font-size="23.3" font-weight="bold" letter-spacing="0.146" fill="#000">Total cas confirmés : 22969</text>
<rect x="408" y="540.5" width="47.2" height="23.5" fill="#FFFF80"/>
<text x="463.10" y="558.70" font-size="16.2" font-weight="bold" letter-spacing="0.034" fill="#000">≤ 500</text>
<rect x="408" y="573.2" width="47.2" height="23.5" fill="#F7C04B"/>
<text x="463.01" y="590.60" font-size="16.2" font-weight="bold" letter-spacing="0.311" fill="#000">501 - 1000</text>
<rect x="408" y="605.2" width="47.2" height="23.5" fill="#C46F1E"/>
<text x="462.45" y="622.80" font-size="16.2" font-weight="bold" letter-spacing="0.437" fill="#000">1001 - 2000</text>
<rect x="408" y="637.2" width="47.2" height="23.5" fill="#6B0000"/>
<text x="462.45" y="654.70" font-size="16.2" font-weight="bold" letter-spacing="0.403" fill="#000">Plus 2000 cas recensés</text>
<rect x="408.5" y="670.5" width="46.7" height="22.3" fill="none" stroke="#828282" stroke-width="0.8"/>
<text x="462.29" y="687.80" font-size="16.4" letter-spacing="0.280" fill="#000">Limites districts_Dakar</text>
<path d="M405.5 750.6V759.3H615.5V750.6M510.5 753.1V759.3" fill="none" stroke="#000" stroke-width="1"/>
<text x="401.33" y="741.80" font-size="14.3" letter-spacing="0.000" fill="#000">0</text>
<text x="505.93" y="741.80" font-size="14.3" letter-spacing="0.000" fill="#000">5</text>
<text x="607.23" y="741.80" font-size="14.3" letter-spacing="-0.188" fill="#000">10 Km</text>
<text x="712.88" y="729.60" font-size="14.2" font-weight="bold" letter-spacing="0.183" fill="#000">Echelle 1 cm = 5 Km</text>
<text x="1021.01" y="751.80" font-size="15.3" font-weight="bold" letter-spacing="-0.136" fill="#000">M. NDANEH</text>
<rect x="1022" y="753.5" width="83.8" height="1.6" fill="#000"/>
<text x="135.94" y="778.70" font-size="17" letter-spacing="-0.580" fill="#000">Source : MSAS_DP_COUS</text>
<text x="333.84" y="778.70" font-size="17" letter-spacing="-0.159" fill="#000">Réalisation : Cellule en charge de la Carte sanitaire et Santé digitale (CSSDOS), le 15/03/2021</text>
<rect x="9.5" y="714.7" width="86.6" height="71.3" fill="#fff"/>
<path d="M63.9 727.1C63.7 726.5 61.3 725.1 59.4 724.3C57.5 723.5 54.3 722.5 52.3 722.4C50.3 722.3 49.6 723.7 47.3 723.8C44.9 723.9 40.8 722.7 38.2 723.1C35.6 723.5 33.2 724.7 31.7 726.1C30.2 727.5 29.3 729.6 29.2 731.7C29.1 733.7 29.6 736.5 31.0 738.7C32.3 740.9 34.2 742.9 37.2 744.7C40.3 746.6 44.9 748.2 49.3 749.8C53.7 751.4 59.7 752.7 63.4 754.3C67.1 755.9 69.8 757.8 71.5 759.3C73.1 760.9 73.6 761.7 73.5 763.4C73.3 765.1 72.5 767.5 70.5 769.4C68.4 771.3 64.4 773.4 61.4 775.0C58.4 776.5 51.1 779.3 52.3 779.0C53.6 778.7 65.1 775.0 69.0 773.2C73.0 771.5 74.4 770.5 75.9 768.7C77.4 766.9 78.2 764.6 78.1 762.6C78.0 760.5 77.4 758.4 75.5 756.5C73.6 754.6 70.5 752.9 66.6 751.2C62.8 749.5 56.6 747.8 52.5 746.5C48.5 745.1 45.1 744.2 42.5 742.9C39.8 741.6 37.9 740.3 36.6 738.7C35.3 737.1 34.9 734.8 34.8 733.4C34.7 731.9 35.3 730.7 36.2 729.8C37.1 728.9 38.6 728.3 40.2 728.0C41.9 727.7 44.8 727.9 46.3 728.1C47.8 728.4 47.8 729.5 49.3 729.6C50.8 729.8 53.5 729.4 55.4 729.1C57.2 728.8 59.0 728.3 60.4 727.9C61.8 727.6 64.1 727.7 63.9 727.1Z" fill="#E2001A"/>
<path d="M34.2 747.3C32.3 747.4 30.0 748.9 28.7 750.3C27.3 751.7 26.3 753.8 26.1 755.8C26.0 757.8 26.7 760.1 27.7 762.4C28.7 764.6 30.1 767.2 32.2 769.4C34.3 771.6 39.9 775.9 40.4 775.7C41.0 775.4 36.3 770.3 35.2 767.9C34.1 765.5 33.4 763.1 33.7 761.4C34.0 759.6 35.3 758.0 37.2 757.5C39.2 757.1 42.8 758.5 45.3 758.5C47.8 758.6 50.8 757.2 52.3 757.8C53.8 758.5 54.8 759.8 54.3 762.4C53.8 765.0 48.8 772.8 49.3 773.4C49.8 774.1 55.5 768.7 57.4 766.4C59.3 764.0 60.6 761.4 60.7 759.3C60.8 757.3 59.6 755.4 57.9 754.3C56.1 753.3 52.4 752.9 50.3 753.1C48.2 753.3 47.0 756.0 45.3 755.3C43.6 754.7 42.1 750.6 40.2 749.3C38.4 747.9 36.1 747.1 34.2 747.3Z" fill="#1A1718"/>
</svg></body></html>
